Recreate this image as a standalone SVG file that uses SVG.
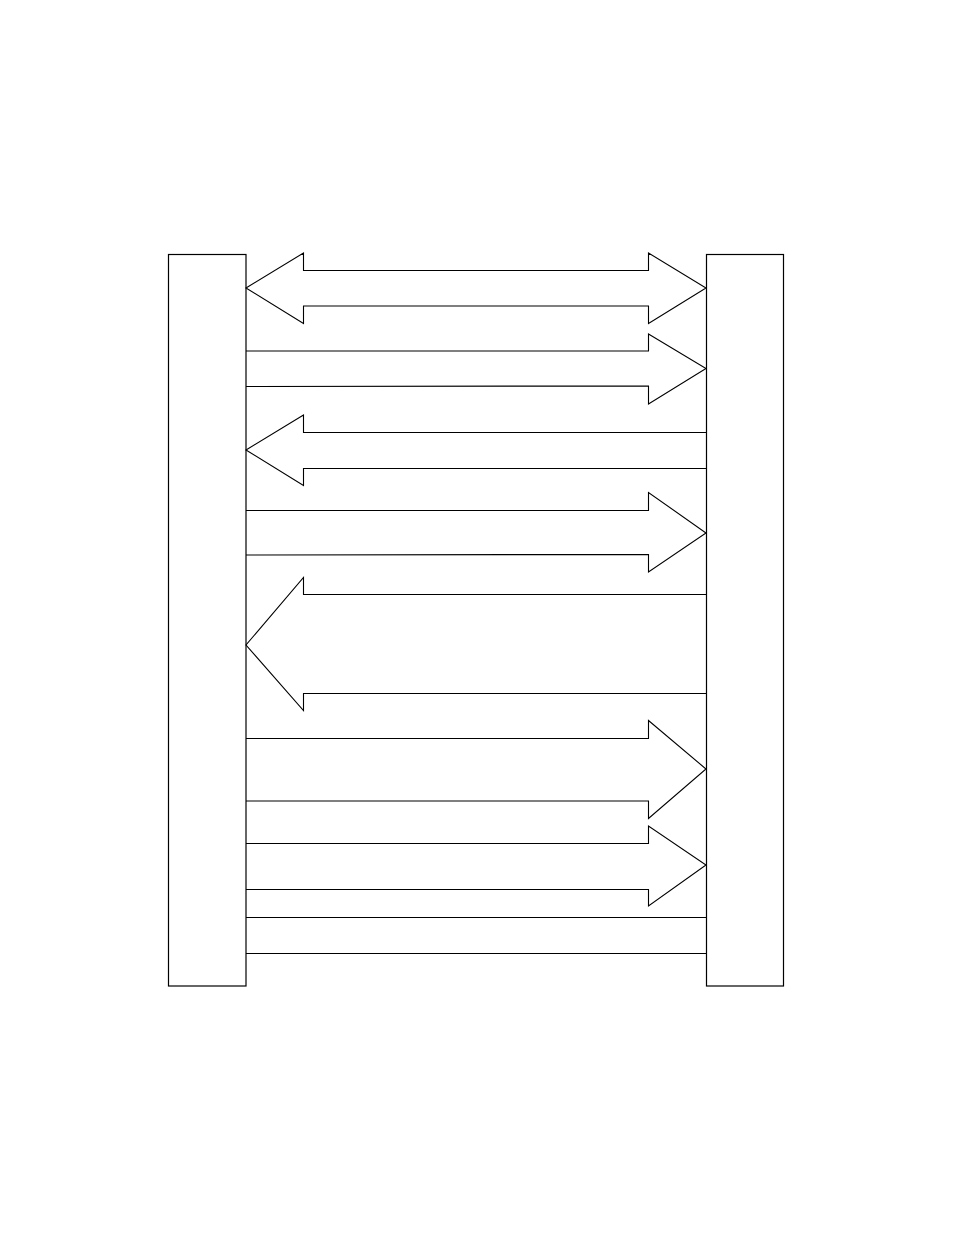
<svg xmlns="http://www.w3.org/2000/svg" width="954" height="1235" viewBox="0 0 954 1235">
<style>
.box{fill:#fff;stroke:#000;stroke-width:1.2}
.arr{fill:#fff;stroke:#000;stroke-width:1.1;stroke-linejoin:miter}
.open{fill:none}
</style>
<rect width="954" height="1235" fill="#fff"/>
<g id="left-block"><rect class="box" x="168.5" y="254.5" width="77.5" height="731.5"/></g>
<g id="right-block"><rect class="box" x="706.5" y="254.5" width="77" height="731.5"/></g>
<g id="connectors">
<path class="arr" d="M246,288 L303.5,253 L303.5,270.5 L648.5,270.5 L648.5,253 L706,288 L648.5,323.5 L648.5,306 L303.5,306 L303.5,323.5 Z"/>
<path class="arr open" d="M246,351 L648.5,351 L648.5,334 L706,368.5 L648.5,404 L648.5,386 L246,386.5"/>
<path class="arr open" d="M706,432.5 L303.5,432.5 L303.5,415 L246,450 L303.5,485.5 L303.5,468.5 L706,468.5"/>
<path class="arr open" d="M246,510.5 L648.5,510.5 L648.5,492.5 L706,533 L648.5,572 L648.5,554.5 L246,555"/>
<path class="arr open" d="M706,594.5 L303.5,594.5 L303.5,577.5 L246,645 L303.5,710.5 L303.5,693.5 L706,693.5"/>
<path class="arr open" d="M246,738.5 L648.5,738.5 L648.5,720.5 L706,769 L648.5,818.5 L648.5,801 L246,801"/>
<path class="arr open" d="M246,843.5 L648.5,843.5 L648.5,826 L706,865 L648.5,906 L648.5,889.5 L246,889.5"/>
<path class="arr open" d="M246,917.5 L706,917.5 M246,953.5 L706,953.5"/>
</g>
</svg>
